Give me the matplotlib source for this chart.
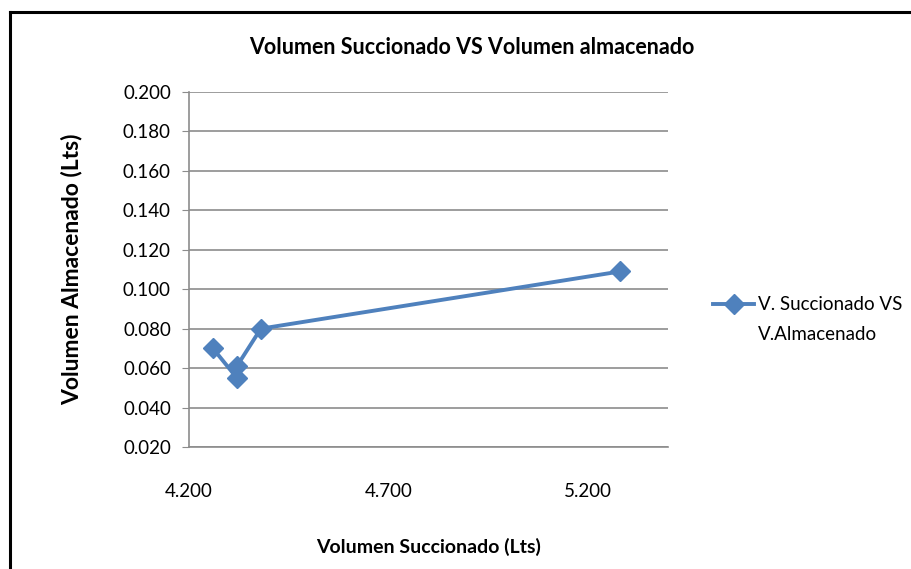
import matplotlib.pyplot as plt
from matplotlib.lines import Line2D

# values
v_succionado = [4.26, 4.32, 4.32, 4.38, 5.28]
v_almacenado = [0.070, 0.055, 0.061, 0.080, 0.109]
x_ticks = [4.2, 4.7, 5.2]
y_ticks = [0.02, 0.04, 0.06, 0.08, 0.10, 0.12, 0.14, 0.16, 0.18, 0.20]

plt.rcParams['font.family'] = ['Lato', 'DejaVu Sans']
blue = '#4F81BD'
grid_c = '#8C8C8C'

W, H = 911, 569
fig = plt.figure(figsize=(W / 100, H / 100), dpi=100)
ax = fig.add_axes([189 / W, 1 - 447 / H, (668 - 189) / W, (447 - 92) / H])

ax.plot(v_succionado, v_almacenado, color=blue, lw=2.8, marker='D', ms=10,
        mec=blue, mfc=blue, label='V. Succionado VS')

ax.set_xlim(4.2, 5.4)
ax.set_ylim(0.02, 0.20)
ax.set_xticks(x_ticks)
ax.set_xticklabels(['%.3f' % t for t in x_ticks])
ax.set_yticks(y_ticks)
ax.set_yticklabels(['%.3f' % t for t in y_ticks])
ax.grid(axis='y', color=grid_c, lw=1.2)
ax.set_axisbelow(True)
for s in ['top', 'right']:
    ax.spines[s].set_visible(False)
for s in ['left', 'bottom']:
    ax.spines[s].set_color(grid_c)
    ax.spines[s].set_linewidth(1.2)
ax.tick_params(axis='y', length=5, color=grid_c, labelsize=13.5, pad=8)
ax.tick_params(axis='x', length=0, labelsize=13.5, pad=26)

ax.set_xlabel('Volumen Succionado (Lts)', fontsize=14, fontweight='bold')
ax.xaxis.set_label_coords(0.5, -(538 - 447) / (447 - 92))
ax.set_ylabel('Volumen Almacenado (Lts)', fontsize=16.5, fontweight='bold')
ax.yaxis.set_label_coords(-(189 - 82) / (668 - 189), 0.5)
fig.text(472 / W, 1 - 47 / H, 'Volumen Succionado VS Volumen almacenado',
         ha='center', va='center', fontsize=15.5, fontweight='bold')

leg = ax.legend(loc='center left', bbox_to_anchor=(713 / W, 1 - 305 / H),
                bbox_transform=fig.transFigure, frameon=False,
                fontsize=13.5, handlelength=2.2, handletextpad=0.2,
                borderpad=0, borderaxespad=0)
fig.text(758 / W, 1 - 335 / H, 'V.Almacenado', ha='left', va='center', fontsize=13.5)

# outer chart frame (top and left edges visible)
fig.add_artist(Line2D([10 / W, 10 / W], [0, 1 - 12 / H], transform=fig.transFigure,
                      color='black', lw=2.2))
fig.add_artist(Line2D([10 / W, 1], [1 - 12 / H, 1 - 12 / H], transform=fig.transFigure,
                      color='black', lw=2.2))

fig.savefig('out.png', dpi=100)
